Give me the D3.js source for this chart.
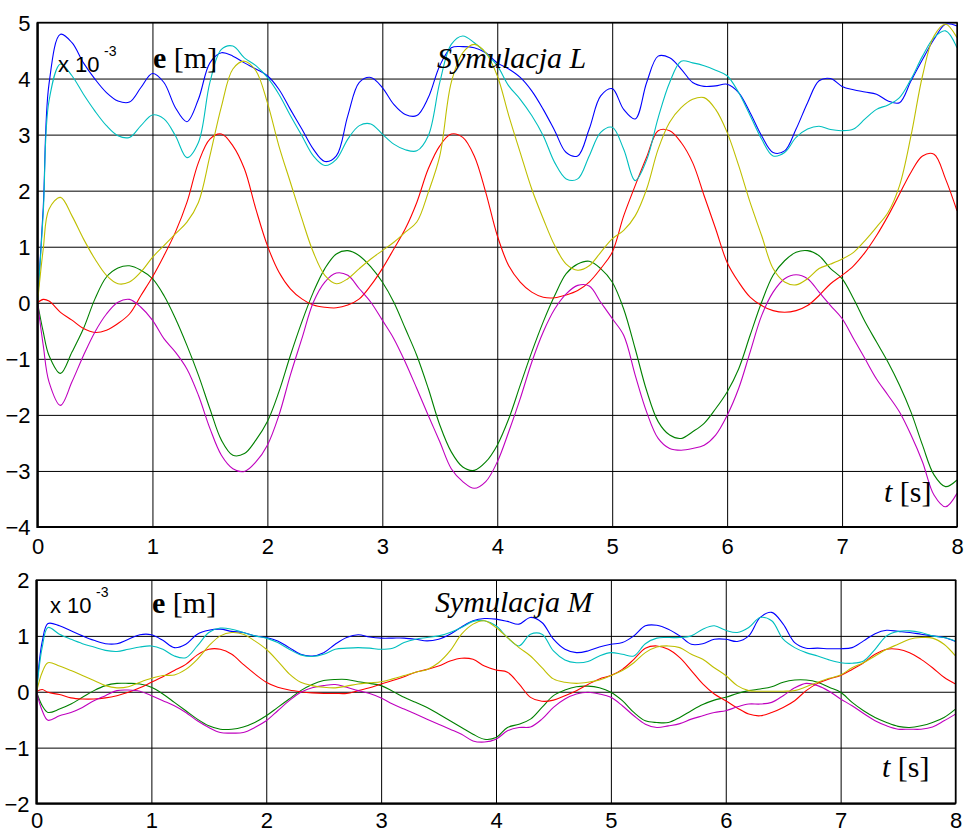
<!DOCTYPE html>
<html>
<head>
<meta charset="utf-8">
<script src="https://cdn.jsdelivr.net/npm/d3@7"></script>
<style>
  body { margin: 0; background: #fff; }
  svg { display: block; }
  .tick-label { font-family: "Liberation Sans", Arial, sans-serif; font-size: 22px; fill: #000; }
  .serif { font-family: "Liberation Serif", "Times New Roman", serif; font-size: 30px; fill: #000; }
</style>
</head>
<body>
<div id="chart"></div>
<script>
// time samples [s]
const time = [0, 0.05,
  0.1, 0.2, 0.3, 0.4, 0.5, 0.6, 0.7, 0.8, 0.9, 1.0,
  1.1, 1.2, 1.3, 1.4, 1.5, 1.6, 1.7, 1.8, 1.9, 2.0,
  2.1, 2.2, 2.3, 2.4, 2.5, 2.6, 2.7, 2.8, 2.9, 3.0,
  3.1, 3.2, 3.3, 3.4, 3.5, 3.6, 3.7, 3.8, 3.9, 4.0,
  4.1, 4.2, 4.3, 4.4, 4.5, 4.6, 4.7, 4.8, 4.9, 5.0,
  5.1, 5.2, 5.3, 5.4, 5.5, 5.6, 5.7, 5.8, 5.9, 6.0,
  6.1, 6.2, 6.3, 6.4, 6.5, 6.6, 6.7, 6.8, 6.9, 7.0,
  7.1, 7.2, 7.3, 7.4, 7.5, 7.6, 7.7, 7.8, 7.9, 8.0];

// Symulacja L, e [m] x 1e-3
const blueL = [0, 1.7,
  3.9, 4.79, 4.64, 4.28, 3.99, 3.75, 3.60, 3.58, 3.84, 4.09,
  3.93, 3.48, 3.23, 3.63, 4.28, 4.46, 4.40, 4.28, 4.17, 4.05,
  3.81, 3.45, 3.10, 2.74, 2.52, 2.62, 3.34, 3.93, 4.02, 3.84,
  3.54, 3.36, 3.34, 3.66, 4.23, 4.55, 4.57, 4.55, 4.46, 4.28,
  4.17, 4.02, 3.78, 3.45, 3.07, 2.68, 2.62, 3.10, 3.69, 3.82,
  3.45, 3.28, 3.93, 4.40, 4.37, 4.17, 3.93, 3.86, 3.87, 3.90,
  3.75, 3.39, 2.98, 2.68, 2.71, 3.10, 3.57, 3.96, 4.00, 3.86,
  3.80, 3.76, 3.72, 3.60, 3.57, 3.96, 4.34, 4.70, 4.97, 4.94];
const greenL = [0, -0.52,
  -0.94, -1.26, -0.88, -0.46, 0.07, 0.46, 0.62, 0.66, 0.58, 0.43,
  0.13, -0.28, -0.76, -1.29, -1.89, -2.45, -2.72, -2.69, -2.45, -2.12,
  -1.59, -0.94, -0.34, 0.19, 0.61, 0.87, 0.93, 0.84, 0.64, 0.37,
  0.01, -0.46, -0.94, -1.53, -2.18, -2.66, -2.93, -2.99, -2.84, -2.54,
  -2.07, -1.47, -0.88, -0.34, 0.13, 0.52, 0.69, 0.74, 0.61, 0.37,
  -0.11, -0.82, -1.57, -2.12, -2.36, -2.42, -2.30, -2.15, -1.89, -1.59,
  -1.18, -0.58, 0.01, 0.49, 0.75, 0.90, 0.93, 0.84, 0.61, 0.43,
  0.07, -0.34, -0.70, -1.06, -1.47, -1.95, -2.54, -3.07, -3.28, -3.16];
const redL = [0, 0.06,
  0.03, -0.17, -0.31, -0.46, -0.53, -0.49, -0.37, -0.20, 0.13, 0.46,
  0.84, 1.26, 1.79, 2.50, 2.92, 3.01, 2.80, 2.39, 1.67, 1.02,
  0.55, 0.25, 0.07, -0.04, -0.08, -0.09, -0.04, 0.07, 0.31, 0.61,
  0.96, 1.32, 1.79, 2.39, 2.80, 3.01, 2.95, 2.62, 1.97, 1.20,
  0.66, 0.37, 0.19, 0.10, 0.09, 0.14, 0.22, 0.37, 0.61, 0.90,
  1.55, 2.09, 2.60, 3.07, 3.07, 2.86, 2.50, 1.91, 1.32, 0.72,
  0.37, 0.10, -0.05, -0.14, -0.17, -0.14, -0.05, 0.13, 0.34, 0.49,
  0.66, 0.90, 1.20, 1.55, 1.94, 2.33, 2.62, 2.65, 2.21, 1.64];
const cyanL = [0, 1.6,
  3.6, 4.26, 4.05, 3.72, 3.42, 3.16, 2.98, 2.95, 3.16, 3.35,
  3.28, 2.98, 2.59, 2.86, 3.93, 4.52, 4.58, 4.37, 4.23, 4.02,
  3.72, 3.34, 2.98, 2.62, 2.45, 2.56, 2.92, 3.16, 3.19, 3.01,
  2.83, 2.73, 2.71, 2.98, 3.93, 4.61, 4.76, 4.64, 4.46, 4.23,
  3.87, 3.63, 3.34, 2.98, 2.50, 2.21, 2.21, 2.62, 3.04, 3.13,
  2.74, 2.18, 2.55, 3.30, 3.93, 4.31, 4.28, 4.23, 4.15, 4.05,
  3.75, 3.34, 2.92, 2.62, 2.68, 2.95, 3.10, 3.15, 3.09, 3.07,
  3.10, 3.28, 3.45, 3.53, 3.66, 3.99, 4.40, 4.73, 4.85, 4.55];
const magentaL = [0, -0.76,
  -1.41, -1.83, -1.41, -0.94, -0.52, -0.20, 0.01, 0.06, -0.08, -0.31,
  -0.64, -0.88, -1.18, -1.65, -2.24, -2.72, -2.96, -3.01, -2.84, -2.54,
  -2.01, -1.29, -0.64, 0.01, 0.37, 0.53, 0.49, 0.25, 0.01, -0.31,
  -0.64, -1.06, -1.53, -2.01, -2.48, -2.96, -3.19, -3.31, -3.19, -2.84,
  -2.30, -1.71, -1.06, -0.52, -0.11, 0.16, 0.31, 0.30, 0.01, -0.28,
  -0.58, -1.29, -1.95, -2.42, -2.60, -2.63, -2.60, -2.54, -2.36, -2.01,
  -1.53, -0.88, -0.23, 0.19, 0.43, 0.50, 0.43, 0.19, -0.05, -0.28,
  -0.64, -1.00, -1.36, -1.65, -1.95, -2.36, -2.84, -3.43, -3.64, -3.40];
const yellowL = [0, 0.96,
  1.67, 1.88, 1.55, 1.14, 0.78, 0.49, 0.34, 0.37, 0.55, 0.81,
  1.02, 1.23, 1.44, 1.79, 2.62, 3.50, 4.17, 4.31, 4.14, 3.57,
  2.80, 2.15, 1.50, 0.90, 0.49, 0.34, 0.43, 0.61, 0.78, 0.93,
  1.08, 1.26, 1.44, 1.97, 2.62, 3.93, 4.46, 4.61, 4.46, 4.05,
  3.34, 2.68, 2.03, 1.50, 1.02, 0.69, 0.58, 0.66, 0.90, 1.14,
  1.29, 1.55, 2.03, 2.74, 3.22, 3.48, 3.63, 3.66, 3.45, 3.04,
  2.45, 1.79, 1.20, 0.61, 0.37, 0.32, 0.43, 0.61, 0.69, 0.78,
  0.90, 1.11, 1.35, 1.61, 2.09, 2.98, 4.05, 4.76, 4.97, 4.73];

// Symulacja M, e [m] x 1e-3
const blueM = [0, 0.9,
  1.22, 1.18, 1.09, 1.00, 0.92, 0.86, 0.86, 0.94, 1.02, 1.02,
  0.92, 0.79, 0.85, 1.03, 1.10, 1.12, 1.08, 1.06, 1.00, 0.97,
  0.91, 0.79, 0.67, 0.64, 0.70, 0.85, 0.97, 1.02, 0.98, 0.96,
  0.96, 0.96, 0.94, 0.91, 0.94, 1.03, 1.16, 1.27, 1.31, 1.30,
  1.26, 1.21, 1.33, 1.24, 0.94, 0.76, 0.70, 0.73, 0.80, 0.85,
  0.88, 1.00, 1.18, 1.19, 1.12, 1.00, 0.85, 0.86, 0.94, 0.94,
  0.90, 1.00, 1.33, 1.42, 1.21, 0.88, 0.78, 0.78, 0.77, 0.77,
  0.79, 0.91, 1.04, 1.10, 1.08, 1.06, 1.03, 1.00, 0.97, 0.90];
const greenM = [0, -0.25,
  -0.37, -0.31, -0.22, -0.10, 0.02, 0.11, 0.15, 0.15, 0.14, 0.08,
  -0.04, -0.19, -0.34, -0.49, -0.61, -0.67, -0.67, -0.63, -0.55, -0.43,
  -0.28, -0.13, 0.02, 0.13, 0.20, 0.22, 0.22, 0.18, 0.15, 0.11,
  0.01, -0.10, -0.19, -0.28, -0.40, -0.52, -0.64, -0.76, -0.85, -0.82,
  -0.64, -0.58, -0.49, -0.28, -0.07, 0.03, 0.09, 0.10, 0.07, -0.01,
  -0.16, -0.37, -0.52, -0.55, -0.55, -0.46, -0.34, -0.23, -0.15, -0.10,
  -0.03, 0.02, 0.05, 0.09, 0.17, 0.21, 0.21, 0.17, 0.08, -0.01,
  -0.19, -0.34, -0.46, -0.55, -0.62, -0.64, -0.61, -0.55, -0.46, -0.31];
const redM = [0, 0.04,
  -0.01, -0.05, -0.11, -0.13, -0.13, -0.11, -0.07, -0.01, 0.07, 0.17,
  0.27, 0.38, 0.49, 0.66, 0.76, 0.76, 0.67, 0.49, 0.32, 0.17,
  0.08, 0.03, 0.00, -0.02, -0.03, -0.03, -0.03, 0.02, 0.07, 0.14,
  0.20, 0.27, 0.35, 0.40, 0.46, 0.55, 0.60, 0.58, 0.46, 0.39,
  0.35, 0.14, -0.10, -0.17, -0.15, -0.07, 0.02, 0.13, 0.23, 0.29,
  0.40, 0.58, 0.78, 0.82, 0.76, 0.61, 0.38, 0.14, -0.04, -0.16,
  -0.29, -0.40, -0.43, -0.37, -0.28, -0.16, 0.02, 0.15, 0.23, 0.29,
  0.40, 0.52, 0.67, 0.76, 0.76, 0.70, 0.58, 0.43, 0.26, 0.14];
const cyanM = [0, 0.8,
  1.15, 1.03, 0.94, 0.86, 0.80, 0.74, 0.72, 0.76, 0.80, 0.82,
  0.76, 0.64, 0.61, 0.82, 1.06, 1.14, 1.12, 1.06, 1.00, 0.96,
  0.88, 0.76, 0.66, 0.63, 0.67, 0.76, 0.78, 0.79, 0.78, 0.76,
  0.78, 0.88, 0.94, 0.97, 1.00, 1.06, 1.15, 1.26, 1.27, 1.18,
  0.97, 0.82, 1.03, 1.03, 0.73, 0.57, 0.52, 0.54, 0.64, 0.70,
  0.67, 0.64, 0.86, 0.96, 0.97, 0.97, 1.00, 1.12, 1.18, 1.10,
  1.06, 1.15, 1.33, 1.27, 0.94, 0.79, 0.70, 0.64, 0.57, 0.52,
  0.51, 0.55, 0.76, 1.00, 1.08, 1.09, 1.06, 1.00, 0.97, 0.91];
const magentaM = [0, -0.34,
  -0.51, -0.43, -0.37, -0.28, -0.16, -0.07, 0.02, 0.03, 0.01, -0.07,
  -0.16, -0.25, -0.37, -0.52, -0.64, -0.73, -0.74, -0.73, -0.64, -0.52,
  -0.34, -0.16, -0.01, 0.07, 0.11, 0.13, 0.08, 0.02, -0.03, -0.11,
  -0.22, -0.31, -0.40, -0.49, -0.58, -0.67, -0.76, -0.88, -0.90, -0.85,
  -0.70, -0.64, -0.63, -0.49, -0.28, -0.13, -0.04, -0.01, -0.04, -0.10,
  -0.25, -0.43, -0.58, -0.64, -0.61, -0.57, -0.49, -0.43, -0.37, -0.34,
  -0.27, -0.22, -0.22, -0.19, -0.07, 0.07, 0.15, 0.11, 0.01, -0.13,
  -0.25, -0.39, -0.52, -0.61, -0.67, -0.67, -0.67, -0.63, -0.52, -0.40];
const yellowM = [0, 0.35,
  0.52, 0.46, 0.38, 0.29, 0.20, 0.11, 0.07, 0.09, 0.17, 0.24,
  0.29, 0.30, 0.40, 0.58, 0.82, 1.00, 1.06, 1.03, 0.91, 0.76,
  0.55, 0.32, 0.17, 0.11, 0.08, 0.07, 0.10, 0.14, 0.16, 0.18,
  0.23, 0.29, 0.35, 0.40, 0.52, 0.73, 1.03, 1.21, 1.27, 1.15,
  0.97, 0.79, 0.64, 0.43, 0.23, 0.17, 0.15, 0.17, 0.21, 0.29,
  0.38, 0.52, 0.70, 0.80, 0.82, 0.79, 0.67, 0.58, 0.43, 0.29,
  0.11, 0.02, 0.01, 0.01, 0.01, 0.02, 0.09, 0.17, 0.24, 0.30,
  0.43, 0.52, 0.64, 0.76, 0.85, 0.94, 0.97, 0.96, 0.85, 0.64];

const xTicks = [0, 1, 2, 3, 4, 5, 6, 7, 8];
const yTicksL = [-4, -3, -2, -1, 0, 1, 2, 3, 4, 5];
const yTicksM = [-2, -1, 0, 1, 2];
// MATLAB default colour order: b, g, r, c, m, y
const lineColors = ['#0000ff', '#008000', '#ff0000', '#00bfbf', '#bf00bf', '#bfbf00'];

const width = 965, height = 831;

const panels = [
  {
    id: 'L', title: 'Symulacja L', yDomain: [-4, 5], yTicks: yTicksL,
    series: [blueL, greenL, redL, cyanL, magentaL, yellowL],
    left: 37.5, right: 957, top: 22.5, bottom: 527, xLabelY: 27,
    scalePos: [58, 72], expPos: [104, 56], unitPos: [153, 68], titlePos: [437, 68], tPos: [884, 502]
  },
  {
    id: 'M', title: 'Symulacja M', yDomain: [-2, 2], yTicks: yTicksM,
    series: [blueM, greenM, redM, cyanM, magentaM, yellowM],
    left: 36.5, right: 955.5, top: 580, bottom: 803.5, xLabelY: 24,
    scalePos: [50, 613], expPos: [96, 597], unitPos: [152, 613], titlePos: [435, 612], tPos: [882, 777]
  }
];

const svg = d3.select('#chart').append('svg')
  .attr('width', width)
  .attr('height', height);

panels.forEach(p => {
  const x = d3.scaleLinear().domain([0, 8]).range([p.left, p.right]);
  const y = d3.scaleLinear().domain(p.yDomain).range([p.bottom, p.top]);
  const g = svg.append('g').attr('class', 'panel-' + p.id);

  // grid
  g.append('g')
    .attr('transform', `translate(0,${p.bottom})`)
    .call(d3.axisBottom(x).tickValues(xTicks).tickSize(-(p.bottom - p.top)).tickFormat(''))
    .call(a => a.select('.domain').remove())
    .selectAll('line').attr('stroke', '#000').attr('stroke-width', 1);

  g.append('g')
    .attr('transform', `translate(${p.left},0)`)
    .call(d3.axisLeft(y).tickValues(p.yTicks).tickSize(-(p.right - p.left)).tickFormat(''))
    .call(a => a.select('.domain').remove())
    .selectAll('line').attr('stroke', '#000').attr('stroke-width', 1);

  // tick labels
  const xAxis = g.append('g')
    .attr('transform', `translate(0,${p.bottom})`)
    .call(d3.axisBottom(x).tickValues(xTicks).tickSize(0).tickFormat(d3.format('d')));
  xAxis.select('.domain').remove();
  xAxis.selectAll('text').attr('class', 'tick-label').attr('font-size', null).attr('font-family', null)
    .attr('dy', null).attr('y', p.xLabelY);

  const yAxis = g.append('g')
    .attr('transform', `translate(${p.left},0)`)
    .call(d3.axisLeft(y).tickValues(p.yTicks).tickSize(0).tickFormat(d3.format('d')));
  yAxis.select('.domain').remove();
  yAxis.selectAll('text').attr('class', 'tick-label').attr('font-size', null).attr('font-family', null)
    .attr('x', -7).attr('dy', '0.35em');

  // curves
  const clipId = 'clip-' + p.id;
  svg.append('clipPath').attr('id', clipId)
    .append('rect')
    .attr('x', p.left).attr('y', p.top)
    .attr('width', p.right - p.left).attr('height', p.bottom - p.top);

  const line = d3.line()
    .x((d, i) => x(time[i]))
    .y(d => y(d))
    .curve(d3.curveCatmullRom.alpha(0.5));

  g.append('g').attr('clip-path', `url(#${clipId})`)
    .selectAll('path')
    .data(p.series)
    .join('path')
    .attr('d', line)
    .attr('fill', 'none')
    .attr('stroke', (d, i) => lineColors[i])
    .attr('stroke-width', 1.1);

  // axes box
  g.append('rect')
    .attr('x', p.left).attr('y', p.top)
    .attr('width', p.right - p.left).attr('height', p.bottom - p.top)
    .attr('fill', 'none').attr('stroke', '#000').attr('stroke-width', 1.4);
  g.append('path')
    .attr('d', `M${p.left},${p.top}V${p.bottom}H${p.right}`)
    .attr('fill', 'none').attr('stroke', '#000').attr('stroke-width', 2.2);

  // annotations
  g.append('text').attr('class', 'tick-label')
    .attr('x', p.scalePos[0]).attr('y', p.scalePos[1])
    .text('x 10');
  g.append('text').attr('class', 'tick-label')
    .attr('x', p.expPos[0]).attr('y', p.expPos[1])
    .style('font-size', '14px')
    .text('-3');

  const unit = g.append('text').attr('class', 'serif')
    .attr('x', p.unitPos[0]).attr('y', p.unitPos[1]);
  unit.append('tspan').style('font-weight', 'bold').text('e');
  unit.append('tspan').text(' [m]');

  g.append('text').attr('class', 'serif')
    .attr('x', p.titlePos[0]).attr('y', p.titlePos[1])
    .style('font-style', 'italic')
    .text(p.title);

  const tl = g.append('text').attr('class', 'serif')
    .attr('x', p.tPos[0]).attr('y', p.tPos[1]);
  tl.append('tspan').style('font-style', 'italic').text('t');
  tl.append('tspan').text(' [s]');
});
</script>
</body>
</html>
